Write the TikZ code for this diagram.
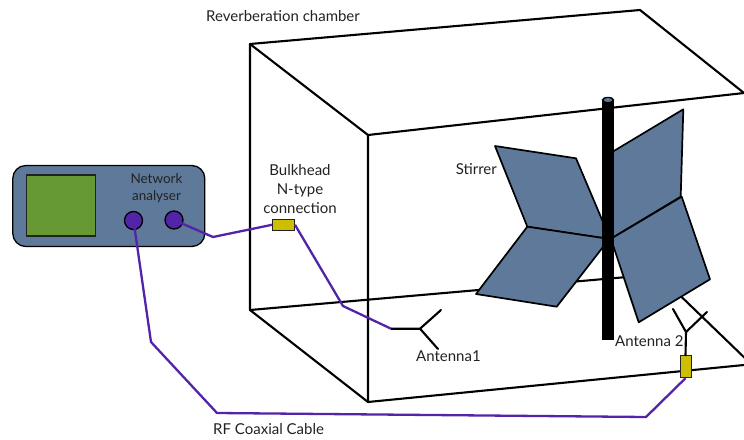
\documentclass[tikz,border=0pt]{standalone}
\usepackage{fontspec}
\setmainfont{Lato}
\definecolor{slate}{HTML}{5E7999}
\definecolor{coax}{HTML}{5224A8}
\definecolor{screen}{HTML}{669933}
\definecolor{conn}{HTML}{CDBE00}
\definecolor{ink}{HTML}{222222}
\tikzset{
  edge/.style={draw=black,line width=2.1pt,line cap=round,line join=round},
  paddle/.style={fill=slate,draw=black,line width=1.7pt,line join=round},
  cable/.style={draw=coax,line width=2.3pt,line join=round},
  port/.style={circle,fill=coax,draw=black,line width=1.3pt,minimum size=18pt,inner sep=0pt},
  bulk/.style={rectangle,fill=conn,draw=ink,line width=1pt,inner sep=0pt},
  label/.style={text=ink,font=\fontsize{15}{19}\selectfont,inner sep=0pt,align=center},
  smalllabel/.style={text=ink,font=\fontsize{13.5}{17}\selectfont,inner sep=0pt,align=center}
}
\begin{document}
\begin{tikzpicture}[x=1pt,y=-1pt]
\useasboundingbox (0,0) rectangle (744,439);
\clip (0,0) rectangle (744,439);
% chamber
\coordinate (bl) at (250,44); \coordinate (br) at (640,10);
\coordinate (fl) at (368,135); \coordinate (fr) at (744,93);
\coordinate (bbl) at (250,310); \coordinate (fbl) at (368,402);
\draw[edge] (bbl) -- (bl) -- (br) -- (744,93);
\draw[edge] (bl) -- (fl) -- (fr);
\draw[edge] (fl) -- (fbl) -- (744,365);
\draw[edge] (bbl) -- (fbl);
\draw[edge] (bbl) -- (650,275);
\draw[edge] (663,279) -- (750,363);
% pole and stirrer
\draw[paddle] (495,146) -- (576,158.3) -- (603,222) -- (603,238) -- (527.3,226.7) -- cycle;
\draw[paddle] (527.3,226.7) -- (603,238) -- (603,247) -- (556.7,306.7) -- (476,294) -- cycle;
\draw[paddle] (613,151.5) -- (683.3,109.3) -- (680.7,196.7) -- (613,237.5) -- cycle;
\draw[paddle] (613,237.5) -- (681.7,196.7) -- (710,279.3) -- (638.7,322.3) -- (613,245) -- cycle;
\fill[black] (601.7,100) rectangle (614.3,340);
\fill[black] (608,100) ellipse (6.3 and 3.2);
\fill[slate] (608,100) ellipse (4.2 and 1.9);
% analyser
\node[draw=black,line width=1.3pt,fill=slate,rounded corners=13pt,minimum width=192pt,minimum height=81pt,inner sep=0pt] (analyser) at (108.8,206) {};
\node[draw=ink,line width=1.3pt,fill=screen,minimum width=69pt,minimum height=61pt,inner sep=0pt] (screenbox) at (61.2,205.5) {};
\node[port] (p1) at (133.5,220.5) {};
\node[port] (p2) at (174,220) {};
% bulkhead connectors
\node[bulk,minimum width=22pt,minimum height=11pt] (c1) at (283.5,224.8) {};
\node[bulk,minimum width=11pt,minimum height=22pt] (c2) at (685.5,366.7) {};
% antenna 1
\coordinate (a1end) at (391,328.7);
\coordinate (a1hub) at (420,328.7);
\coordinate (a1up) at (441,310);
\coordinate (a1dn) at (438,349);
\draw[edge] (a1end) -- (a1hub) -- (a1up);
\draw[edge] (a1hub) -- (a1dn);
% antenna 2
\coordinate (a2hub) at (686,332);
\coordinate (a2l) at (673,309);
\coordinate (a2r) at (707,312);
\draw[edge] (c2.north) -- (a2hub) -- (a2l);
\draw[edge] (a2hub) -- (a2r);
% cables
\coordinate (k1) at (213,237);
\coordinate (k2) at (343,306);
\coordinate (k3) at (151,342);
\coordinate (k4) at (217,413);
\coordinate (k5) at (646,417);
\draw[cable] (p2.center) -- (k1) -- (c1.west);
\draw[cable] (c1.east) -- (k2) -- (a1end);
\draw[cable] (p1.center) -- (k3) -- (k4) -- (k5) -- (c2.south);
% labels
\node[label,anchor=west] (chamber) at (206,16) {Reverberation chamber};
\node[smalllabel] (na) at (156.5,188) {Network\\analyser};
\node[label] (bh) at (300,189) {Bulkhead\\N-type\\connection};
\node[label,anchor=east] (st) at (497,169) {Stirrer};
\node[label,anchor=west] (an1) at (416,356) {Antenna1};
\node[label,anchor=west] (an2) at (615,341) {Antenna 2};
\node[label,anchor=west] (rf) at (213,429) {RF Coaxial Cable};
\end{tikzpicture}
\end{document}
